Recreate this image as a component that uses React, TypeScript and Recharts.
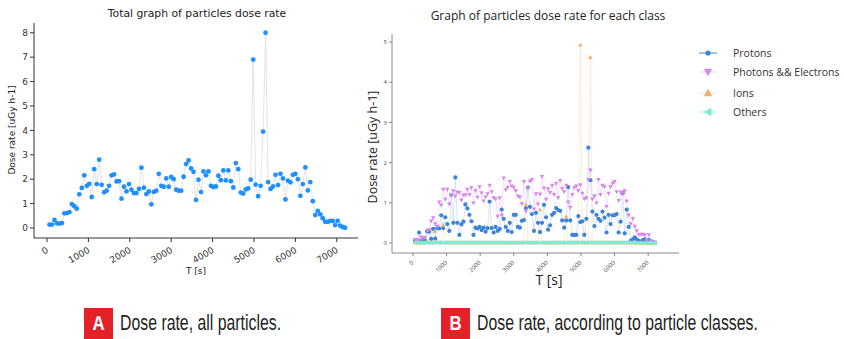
import React from 'react';
import { LineChart, Line, XAxis, YAxis } from 'recharts';

// sampling times, one reading per minute
const TIMES = [
  60, 120, 180, 240, 300, 360, 420, 480, 540, 600,
  660, 720, 780, 840, 900, 960, 1020, 1080, 1140, 1200,
  1260, 1320, 1380, 1440, 1500, 1560, 1620, 1680, 1740, 1800,
  1860, 1920, 1980, 2040, 2100, 2160, 2220, 2280, 2340, 2400,
  2460, 2520, 2580, 2640, 2700, 2760, 2820, 2880, 2940, 3000,
  3060, 3120, 3180, 3240, 3300, 3360, 3420, 3480, 3540, 3600,
  3660, 3720, 3780, 3840, 3900, 3960, 4020, 4080, 4140, 4200,
  4260, 4320, 4380, 4440, 4500, 4560, 4620, 4680, 4740, 4800,
  4860, 4920, 4980, 5040, 5100, 5160, 5220, 5280, 5340, 5400,
  5460, 5520, 5580, 5640, 5700, 5760, 5820, 5880, 5940, 6000,
  6060, 6120, 6180, 6240, 6300, 6360, 6420, 6480, 6540, 6600,
  6660, 6720, 6780, 6840, 6900, 6960, 7020, 7080, 7140, 7200,
];

const TOTAL_DOSE = [
  0.14, 0.14, 0.33, 0.19, 0.18, 0.2, 0.6, 0.61, 0.65, 0.98,
  0.89, 0.79, 1.38, 1.64, 2.16, 1.73, 1.81, 1.27, 2.41, 1.8,
  2.8, 1.77, 1.46, 1.53, 1.73, 2.16, 2.2, 1.91, 1.92, 1.2,
  1.69, 1.5, 1.8, 1.57, 1.43, 1.43, 1.6, 2.47, 1.65, 1.39,
  1.5, 0.97, 1.48, 1.53, 2.22, 1.73, 1.69, 2.03, 1.69, 2.09,
  2.0, 1.57, 1.53, 1.53, 2.1, 2.62, 2.77, 2.44, 2.3, 1.15,
  1.98, 1.47, 2.32, 2.16, 2.32, 1.73, 1.68, 1.7, 2.14, 1.96,
  2.36, 1.95, 2.36, 1.92, 1.66, 2.66, 2.41, 1.45, 1.41, 1.58,
  1.62, 1.98, 6.9, 1.78, 1.3, 1.73, 3.95, 8.0, 1.88, 1.6,
  1.7, 2.18, 1.76, 2.22, 2.03, 1.17, 1.94, 1.87, 2.18, 2.22,
  2.0, 1.32, 1.8, 2.48, 1.54, 1.88, 1.1, 0.53, 0.7, 0.56,
  0.4, 0.26, 0.25, 0.29, 0.29, 0.12, 0.29, 0.1, 0.04, 0.01,
];

const PROTONS = [
  0.05, 0.05, 0.26, 0.04, 0.05, 0.06, 0.29, 0.28, 0.1, 0.35,
  0.11, 0.37, 0.36, 0.69, 0.37, 0.64, 0.47, 0.3, 1.2, 0.5,
  1.63, 0.5, 0.2, 0.46, 0.53, 0.96, 0.86, 0.7, 0.54, 0.2,
  0.38, 0.36, 0.4, 0.32, 0.38, 0.28, 0.37, 1.03, 0.37, 0.26,
  0.4, 0.3, 0.35, 0.83, 0.6, 0.4, 0.3, 0.5, 0.27, 0.7,
  0.7, 0.4, 0.38, 0.55, 0.57, 0.87, 1.38, 0.9, 0.72, 0.3,
  0.75, 0.5, 0.27, 0.5, 0.95, 0.64, 0.33, 0.44, 0.7, 0.75,
  0.87, 0.82, 0.8, 0.56, 0.38, 0.56, 1.39, 0.56, 0.2, 0.2,
  0.2, 0.67, 0.52, 0.54, 0.2, 0.6, 2.37, 1.56, 0.78, 0.42,
  0.7, 0.6, 0.55, 0.78, 0.63, 0.26, 0.7, 0.47, 0.69, 0.69,
  0.72, 0.26, 0.53, 1.24, 0.24, 0.83, 0.4, 0.05, 0.09, 0.14,
  0.09, 0.05, 0.03, 0.07, 0.09, 0.05, 0.08, 0.04, 0.02, 0.01,
];

const PHOTONS_ELECTRONS = [
  0.08, 0.08, 0.07, 0.14, 0.12, 0.13, 0.3, 0.32, 0.54, 0.62,
  0.47, 0.41, 1.01, 0.94, 1.33, 1.08, 1.33, 0.96, 1.2, 1.29,
  1.16, 1.26, 1.25, 1.06, 1.19, 1.19, 1.33, 1.2, 1.37, 0.99,
  1.3, 1.13, 1.39, 1.24, 1.04, 1.14, 1.22, 1.43, 1.27, 1.12,
  1.09, 0.66, 1.12, 0.69, 1.61, 1.32, 1.38, 1.52, 1.41, 1.38,
  1.29, 1.16, 1.14, 0.97, 1.52, 0.79, 1.36, 1.53, 1.57, 0.84,
  1.22, 0.96, 1.21, 1.65, 1.36, 1.08, 1.34, 1.25, 1.43, 1.2,
  1.48, 1.12, 1.55, 1.35, 1.27, 1.43, 1.01, 0.88, 1.2, 1.37,
  1.41, 1.3, 1.44, 1.23, 1.09, 1.12, 1.57, 1.81, 1.09, 1.17,
  0.99, 1.57, 1.2, 1.43, 1.39, 0.9, 1.23, 1.39, 1.48, 1.52,
  1.27, 1.05, 1.26, 1.23, 1.29, 1.04, 0.69, 0.47, 0.6, 0.41,
  0.3, 0.2, 0.21, 0.21, 0.19, 0.06, 0.2, 0.05, 0.01, 0.01,
];

const IONS = [
  0.01, 0.01, 0.0, 0.01, 0.01, 0.01, 0.01, 0.01, 0.01, 0.01,
  0.3, 0.01, 0.01, 0.01, 0.45, 0.01, 0.01, 0.01, 0.01, 0.01,
  0.01, 0.01, 0.01, 0.01, 0.01, 0.01, 0.01, 0.01, 0.01, 0.01,
  0.01, 0.01, 0.01, 0.01, 0.01, 0.01, 0.01, 0.01, 0.01, 0.01,
  0.01, 0.01, 0.01, 0.01, 0.01, 0.01, 0.01, 0.01, 0.01, 0.01,
  0.01, 0.01, 0.01, 0.01, 0.01, 0.95, 0.01, 0.01, 0.01, 0.01,
  0.01, 0.01, 0.83, 0.01, 0.01, 0.01, 0.01, 0.01, 0.01, 0.01,
  0.01, 0.01, 0.01, 0.01, 0.01, 0.66, 0.01, 0.01, 0.01, 0.01,
  0.01, 0.01, 4.93, 0.01, 0.01, 0.01, 0.01, 4.62, 0.01, 0.01,
  0.01, 0.01, 0.01, 0.01, 0.01, 0.01, 0.01, 0.01, 0.01, 0.01,
  0.01, 0.01, 0.01, 0.01, 0.01, 0.01, 0.01, 0.01, 0.01, 0.01,
  0.01, 0.01, 0.01, 0.0, 0.01, 0.0, 0.01, 0.0, 0.0, 0.0,
];

const OTHERS = [
  0.01, 0.01, 0.0, 0.01, 0.0, 0.01, 0.01, 0.01, 0.0, 0.01,
  0.01, 0.01, 0.01, 0.01, 0.01, 0.01, 0.01, 0.01, 0.01, 0.01,
  0.01, 0.01, 0.01, 0.01, 0.01, 0.01, 0.01, 0.01, 0.01, 0.01,
  0.01, 0.01, 0.01, 0.01, 0.01, 0.01, 0.01, 0.01, 0.01, 0.01,
  0.01, 0.01, 0.01, 0.01, 0.01, 0.01, 0.01, 0.01, 0.01, 0.01,
  0.01, 0.01, 0.01, 0.01, 0.01, 0.01, 0.01, 0.01, 0.01, 0.01,
  0.01, 0.01, 0.01, 0.01, 0.01, 0.01, 0.01, 0.01, 0.01, 0.01,
  0.01, 0.01, 0.01, 0.01, 0.01, 0.01, 0.01, 0.01, 0.01, 0.01,
  0.01, 0.01, 0.02, 0.01, 0.01, 0.01, 0.01, 0.02, 0.01, 0.01,
  0.01, 0.01, 0.01, 0.01, 0.01, 0.01, 0.01, 0.01, 0.01, 0.01,
  0.01, 0.01, 0.01, 0.01, 0.01, 0.01, 0.01, 0.0, 0.01, 0.0,
  0.0, 0.0, 0.0, 0.0, 0.0, 0.0, 0.0, 0.0, 0.0, 0.0,
];

const TIME_TICKS = [0, 1000, 2000, 3000, 4000, 5000, 6000, 7000];
const TOTAL_TICKS = [0, 1, 2, 3, 4, 5, 6, 7, 8];
const CLASS_TICKS = [0, 1, 2, 3, 4, 5];

const totalRows = TIMES.map((t, i) => ({ t, dose: TOTAL_DOSE[i] }));
const classRows = TIMES.map((t, i) => ({
  t,
  protons: PROTONS[i],
  photons: PHOTONS_ELECTRONS[i],
  ions: IONS[i],
  others: OTHERS[i],
}));

const CLASSES = [
  { key: 'protons', name: 'Protons', marker: 'circle', fill: '#3c84d8', line: '#b9d4f2', size: 2.1 },
  { key: 'photons', name: 'Photons && Electrons', marker: 'down', fill: '#d886e8', line: '#f0cdf6', size: 2.2 },
  { key: 'ions', name: 'Ions', marker: 'up', fill: '#f4ad6a', line: '#f9e0c4', size: 2.2 },
  { key: 'others', name: 'Others', marker: 'left', fill: '#7decd6', line: '#a8f3e3', size: 2.2 },
];

const MPL_FONT = 'DejaVu Sans, sans-serif';
const SANS = '"Open Sans", "Noto Sans", sans-serif';
const NARROW = '"Liberation Sans Narrow", "Liberation Sans", sans-serif';

function markerPath(kind: string, x: number, y: number, s: number) {
  if (kind === 'down') return `M${x - s},${y - s * 0.8}L${x + s},${y - s * 0.8}L${x},${y + s}Z`;
  if (kind === 'up') return `M${x - s},${y + s * 0.8}L${x + s},${y + s * 0.8}L${x},${y - s}Z`;
  if (kind === 'left') return `M${x + s * 0.8},${y - s}L${x + s * 0.8},${y + s}L${x - s},${y}Z`;
  return '';
}

const makeDot = (kind: string, fill: string, size: number) => (props: any) => {
  const { cx, cy, index } = props;
  if (cx == null || cy == null) return <g key={`${kind}-${index}`} />;
  if (kind === 'circle') return <circle key={`${kind}-${index}`} cx={cx} cy={cy} r={size} fill={fill} />;
  return <path key={`${kind}-${index}`} d={markerPath(kind, cx, cy, size)} fill={fill} />;
};

const TotalTimeTick = ({ x, y, payload }: any) => (
  <text
    x={x + 2}
    y={y + 8}
    textAnchor="end"
    transform={`rotate(-30 ${x + 2} ${y + 8})`}
    fontSize={9}
    fill="#333"
    fontFamily={MPL_FONT}
  >
    {payload.value}
  </text>
);

const ClassTimeTick = ({ x, y, payload }: any) => (
  <text
    x={x + 1}
    y={y + 5}
    textAnchor="end"
    transform={`rotate(-45 ${x + 1} ${y + 5})`}
    fontSize={6}
    fill="#555"
    fontFamily={SANS}
  >
    {payload.value}
  </text>
);

// legend for the class chart, one row per series
const ClassLegend = () => (
  <div style={{ position: 'absolute', left: 697, top: 43, fontFamily: SANS, fontSize: 10.5, color: '#333' }}>
    {CLASSES.map((c, i) => (
      <div key={c.key} style={{ display: 'flex', alignItems: 'center', height: 19.5, marginTop: i === 2 ? 1 : 0 }}>
        <svg width={22} height={12} style={{ marginRight: 14 }}>
          <line x1={2} y1={6} x2={20} y2={6} stroke={c.marker === 'circle' ? c.fill : c.line} strokeWidth={1} />
          {c.marker === 'circle' ? (
            <circle cx={11} cy={6} r={2.6} fill={c.fill} />
          ) : (
            <path d={markerPath(c.marker, 11, 6, 4.2)} fill={c.fill} />
          )}
        </svg>
        <span>{c.name}</span>
      </div>
    ))}
  </div>
);

const abs = (left: number, top: number): React.CSSProperties => ({
  position: 'absolute',
  left,
  top,
  transform: 'translate(-50%, -50%)',
  whiteSpace: 'nowrap',
  lineHeight: 1,
});

// figure caption: red letter badge followed by condensed text
const Caption = ({ left, letter, text }: { left: number; letter: string; text: string }) => (
  <div style={{ position: 'absolute', left, top: 308, height: 31, display: 'flex', alignItems: 'flex-start' }}>
    <div
      style={{
        width: 29,
        height: 31,
        background: '#e42128',
        color: '#fff',
        fontFamily: NARROW,
        fontWeight: 'bold',
        fontSize: 21,
        lineHeight: '30px',
        textAlign: 'center',
      }}
    >
      <span style={{ display: 'inline-block', transform: 'scaleX(0.8)' }}>{letter}</span>
    </div>
    <div
      style={{
        marginLeft: 7,
        fontFamily: NARROW,
        fontSize: 22,
        lineHeight: '29px',
        color: '#231f20',
        whiteSpace: 'nowrap',
        transform: 'scaleX(0.72)',
        transformOrigin: 'left center',
      }}
    >
      {text}
    </div>
  </div>
);

export default function App() {
  return (
    <div style={{ position: 'absolute', left: 0, top: 0, width: 844, height: 339, background: '#fff', overflow: 'hidden' }}>
      {/* left panel: all particles together */}
      <div style={{ ...abs(197, 14), fontFamily: MPL_FONT, fontSize: 10.8, color: '#222' }}>
        Total graph of particles dose rate
      </div>
      <div style={{ ...abs(12, 130), transform: 'translate(-50%, -50%) rotate(-90deg)', fontFamily: MPL_FONT, fontSize: 9, color: '#222' }}>
        Dose rate [uGy h-1]
      </div>
      <div style={{ ...abs(196, 271), fontFamily: MPL_FONT, fontSize: 9, color: '#222' }}>T [s]</div>
      <div style={{ position: 'absolute', left: 0, top: 0 }}>
        <LineChart width={370} height={290} data={totalRows} margin={{ top: 23, right: 12, bottom: 0, left: 0 }}>
          <XAxis
            dataKey="t"
            type="number"
            domain={[-314, 7512]}
            ticks={TIME_TICKS}
            interval={0}
            allowDataOverflow
            height={52}
            tickSize={4}
            tick={<TotalTimeTick />}
            stroke="#333"
          />
          <XAxis xAxisId="top" orientation="top" dataKey="t" type="number" domain={[-314, 7512]} height={0} tick={false} tickLine={false} stroke="#333" />
          <YAxis
            type="number"
            domain={[-0.41, 8.4]}
            ticks={TOTAL_TICKS}
            interval={0}
            allowDataOverflow
            width={34}
            tickSize={4}
            tick={{ fontSize: 9, fill: '#333', fontFamily: MPL_FONT }}
            stroke="#333"
          />
          <YAxis yAxisId="right" orientation="right" type="number" domain={[0, 1]} width={0} tick={false} tickLine={false} stroke="#333" />
          <Line
            dataKey="dose"
            type="linear"
            stroke="#dcdcdc"
            strokeWidth={0.8}
            dot={makeDot('circle', '#1e90ff', 2.4)}
            isAnimationActive={false}
          />
        </LineChart>
      </div>

      {/* right panel: one series per particle class */}
      <div style={{ ...abs(548, 16), fontFamily: SANS, fontSize: 12, color: '#222' }}>
        Graph of particles dose rate for each class
      </div>
      <div style={{ ...abs(373, 147), transform: 'translate(-50%, -50%) rotate(-90deg)', fontFamily: SANS, fontSize: 12.5, color: '#222' }}>
        Dose rate [uGy h-1]
      </div>
      <div style={{ ...abs(549, 280), fontFamily: SANS, fontSize: 14, color: '#222' }}>T [s]</div>
      <div style={{ position: 'absolute', left: 370, top: 0 }}>
        <LineChart width={314} height={300} data={classRows} margin={{ top: 34, right: 5, bottom: 0, left: 0 }}>
          <XAxis
            dataKey="t"
            type="number"
            domain={[-625, 7917]}
            ticks={TIME_TICKS}
            interval={0}
            allowDataOverflow
            height={47}
            tickSize={3}
            tick={<ClassTimeTick />}
            stroke="#8a8a8a"
          />
          <XAxis xAxisId="top" orientation="top" dataKey="t" type="number" domain={[-625, 7917]} height={0} tick={false} tickLine={false} stroke="#8a8a8a" />
          <YAxis
            type="number"
            domain={[-0.25, 5.2]}
            ticks={CLASS_TICKS}
            interval={0}
            allowDataOverflow
            width={22}
            tickSize={3}
            tick={{ fontSize: 6, fill: '#555', fontFamily: SANS }}
            stroke="#8a8a8a"
          />
          <YAxis yAxisId="right" orientation="right" type="number" domain={[0, 1]} width={0} tick={false} tickLine={false} stroke="#8a8a8a" />
          {CLASSES.map((c) => (
            <Line
              key={c.key}
              dataKey={c.key}
              name={c.name}
              type="linear"
              stroke={c.line}
              strokeWidth={0.6}
              dot={makeDot(c.marker, c.fill, c.size)}
              isAnimationActive={false}
            />
          ))}
        </LineChart>
      </div>
      <ClassLegend />

      {/* captions */}
      <Caption left={84} letter="A" text="Dose rate, all particles." />
      <Caption left={441} letter="B" text="Dose rate, according to particle classes." />
    </div>
  );
}
